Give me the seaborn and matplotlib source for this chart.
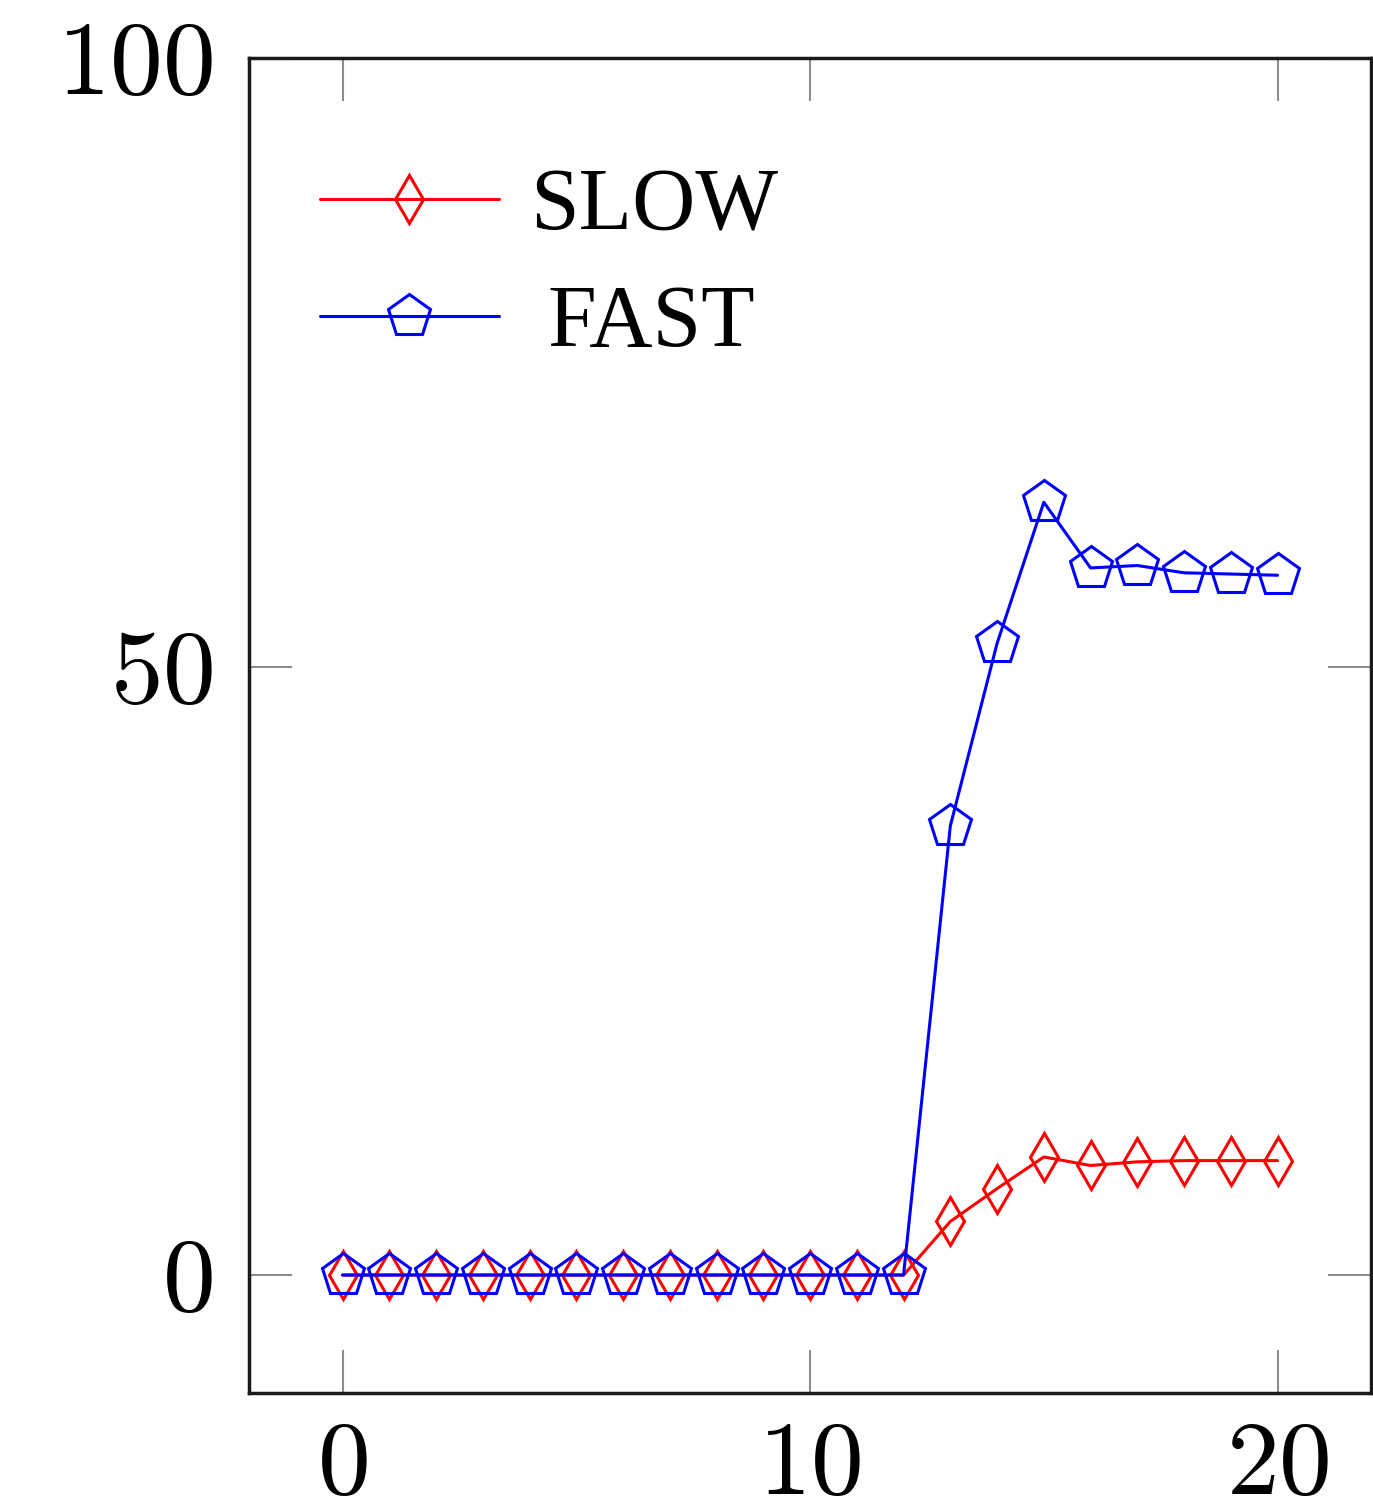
#modules
import numpy as np
import pandas as pd
import matplotlib
matplotlib.use("Agg")
import matplotlib.pyplot as plt
import seaborn as sns

#data
steps = list(range(21))
slow = [0, 0, 0, 0, 0, 0, 0, 0, 0, 0, 0, 0, 0, 4.4, 7.1, 9.7, 9.0, 9.3, 9.4, 9.4, 9.4]
fast = [0, 0, 0, 0, 0, 0, 0, 0, 0, 0, 0, 0, 0, 36.9, 51.9, 63.5, 58.1, 58.3, 57.7, 57.6, 57.5]
series_names = ["SLOW", "FAST"]
x_ticks = [0, 10, 20]
y_ticks = [0, 50, 100]

df = pd.DataFrame({
    "step": steps * 2,
    "value": slow + fast,
    "series": ["SLOW"] * len(steps) + ["FAST"] * len(steps),
})

sns.set_style("ticks")
plt.rcParams["axes.formatter.use_mathtext"] = True
plt.rcParams["text.color"] = "black"
plt.rcParams["xtick.labelcolor"] = "black"
plt.rcParams["ytick.labelcolor"] = "black"

fig = plt.figure(figsize=(13.73, 15.07), dpi=100)
ax = fig.add_axes([0.1814, 0.0756, 0.8172, 0.8859])

sns.lineplot(data=df, x="step", y="value", hue="series", style="series",
             hue_order=series_names, style_order=series_names,
             palette={"SLOW": "#ff0000", "FAST": "#0000ff"},
             markers={"SLOW": "d", "FAST": "p"}, dashes=False,
             linewidth=2.2, markersize=32, legend=False, ax=ax)

#hollow markers like pgfplots
for line in ax.lines:
    line.set_markerfacecolor("none")
    line.set_markeredgecolor(line.get_color())
    line.set_markeredgewidth(2.2)
    if line.get_marker() == "d":
        line.set_markersize(24.5)

ax.set_xlim(-2, 22)
ax.set_ylim(-9.7, 100)
ax.set_xticks(x_ticks)
ax.set_yticks(y_ticks)
ax.set_xlabel("")
ax.set_ylabel("")

ax.tick_params(direction="in", length=31, width=1.5, color="#8c8c8c",
               top=True, right=True, labelsize=76)
ax.tick_params(axis="x", pad=20)
ax.tick_params(axis="y", pad=26)
for lab in ax.get_xticklabels() + ax.get_yticklabels():
    lab.set_fontfamily("cmr10")
    lab.set_color("black")

for side in ["left", "right", "top", "bottom"]:
    ax.spines[side].set_linewidth(2.5)
    ax.spines[side].set_color("#1a1a1a")

leg = ax.legend(ax.lines, series_names, loc="upper left",
                bbox_to_anchor=(0.063, 0.918), frameon=False,
                borderpad=0, borderaxespad=0,
                handlelength=2.05, handletextpad=0.35, labelspacing=0.41,
                prop={"family": "Liberation Serif", "size": 63})
#pgfplots centres the legend entries, nudge FAST a bit right
leg.get_texts()[1].set_x(18)

fig.savefig("out.png", dpi=100)
